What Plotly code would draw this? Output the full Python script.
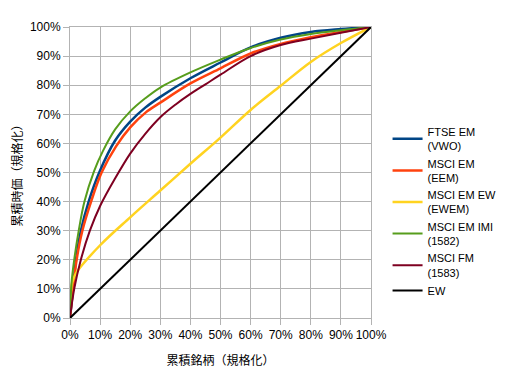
import plotly.graph_objects as go

# Data (percent, normalized cumulative)
ftse_x = [0, 1, 2, 3.6, 6.2, 9.7, 15, 20, 25, 30, 40, 50, 60, 70, 80, 90, 100]
ftse_y = [0, 10, 20, 30, 40, 50, 61, 67.5, 72.3, 76, 82.4, 87.8, 93.0, 96.3, 98.3, 99.3, 100]

eem_x = [0, 1, 2.2, 4.1, 7, 10.5, 15.3, 20, 25, 30, 40, 50, 60, 70, 80, 90, 100]
eem_y = [0, 10, 20, 30, 40, 50, 59, 65.5, 70.5, 74, 80.6, 85.8, 90.9, 94.2, 96.5, 98.3, 100]

ewem_x = [0, 0.7, 2, 10, 20, 30, 40, 50, 60, 70, 80, 90, 100]
ewem_y = [0, 12, 15.4, 25, 34.6, 43.8, 53, 62, 71.5, 79.8, 88, 94.5, 100]

imi_x = [0, 0.5, 1.4, 2.9, 4.8, 8, 11, 15, 20, 25, 30, 40, 50, 60, 70, 80, 90, 100]
imi_y = [0, 12, 20, 30, 40, 50.5, 57.5, 64.8, 71, 75.5, 79.2, 84.4, 88.8, 92.8, 95.7, 97.6, 98.9, 100]

fm_x = [0, 1.4, 3.6, 6.6, 10, 15, 20, 25, 30, 35, 40, 45, 50, 60, 70, 80, 90, 100]
fm_y = [0, 10, 20, 30, 38.5, 48, 56.5, 63.3, 69, 73.3, 77, 80.3, 83.6, 90, 93.8, 96, 98, 100]

ew_x = [0, 100]
ew_y = [0, 100]

tick_vals = [0, 10, 20, 30, 40, 50, 60, 70, 80, 90, 100]
tick_text = ["0%", "10%", "20%", "30%", "40%", "50%", "60%", "70%", "80%", "90%", "100%"]

series = [
    ("FTSE EM<br>(VWO)", ftse_x, ftse_y, "#004586", 2.5),
    ("MSCI EM<br>(EEM)", eem_x, eem_y, "#ff420e", 2.5),
    ("MSCI EM EW<br>(EWEM)", ewem_x, ewem_y, "#ffd320", 2.5),
    ("MSCI EM IMI<br>(1582)", imi_x, imi_y, "#579d1c", 2),
    ("MSCI FM<br>(1583)", fm_x, fm_y, "#7e0021", 2),
    ("EW", ew_x, ew_y, "#000000", 2),
]

fig = go.Figure()
for name, xs, ys, color, w in series:
    fig.add_trace(go.Scatter(
        x=xs, y=ys, name=name, mode="lines",
        line=dict(color=color, width=w, shape="spline", smoothing=1.0),
        cliponaxis=False,
    ))

axis_common = dict(
    range=[0, 100], tickvals=tick_vals, ticktext=tick_text,
    showgrid=True, gridcolor="#b3b3b3", gridwidth=1,
    showline=True, linecolor="#b3b3b3", linewidth=1, mirror=True,
    ticks="outside", ticklen=6, tickcolor="#b3b3b3",
    zeroline=False, automargin=False,
    tickfont=dict(family="Liberation Sans, Arial, sans-serif", size=12, color="#000"),
)

# page body has an 8px default margin, so the figure is sized 512x369
fig.update_layout(
    width=512, height=369,
    margin=dict(l=62, r=149, t=19, b=59),
    paper_bgcolor="white", plot_bgcolor="white",
    xaxis=dict(**axis_common, title=dict(text="累積銘柄（規格化）",
               font=dict(family="Noto Sans CJK JP", size=12, color="#000"))),
    yaxis=dict(**axis_common, title=dict(text="累積時価（規格化）",
               font=dict(family="Noto Sans CJK JP", size=12, color="#000"))),
    legend=dict(x=1.055, y=0.366, xanchor="left", yanchor="middle",
                font=dict(family="Liberation Sans, Arial, sans-serif", size=11, color="#000"),
                itemwidth=30, tracegroupgap=0, bgcolor="rgba(0,0,0,0)"),
    showlegend=True,
)

fig.write_html("out.html")
